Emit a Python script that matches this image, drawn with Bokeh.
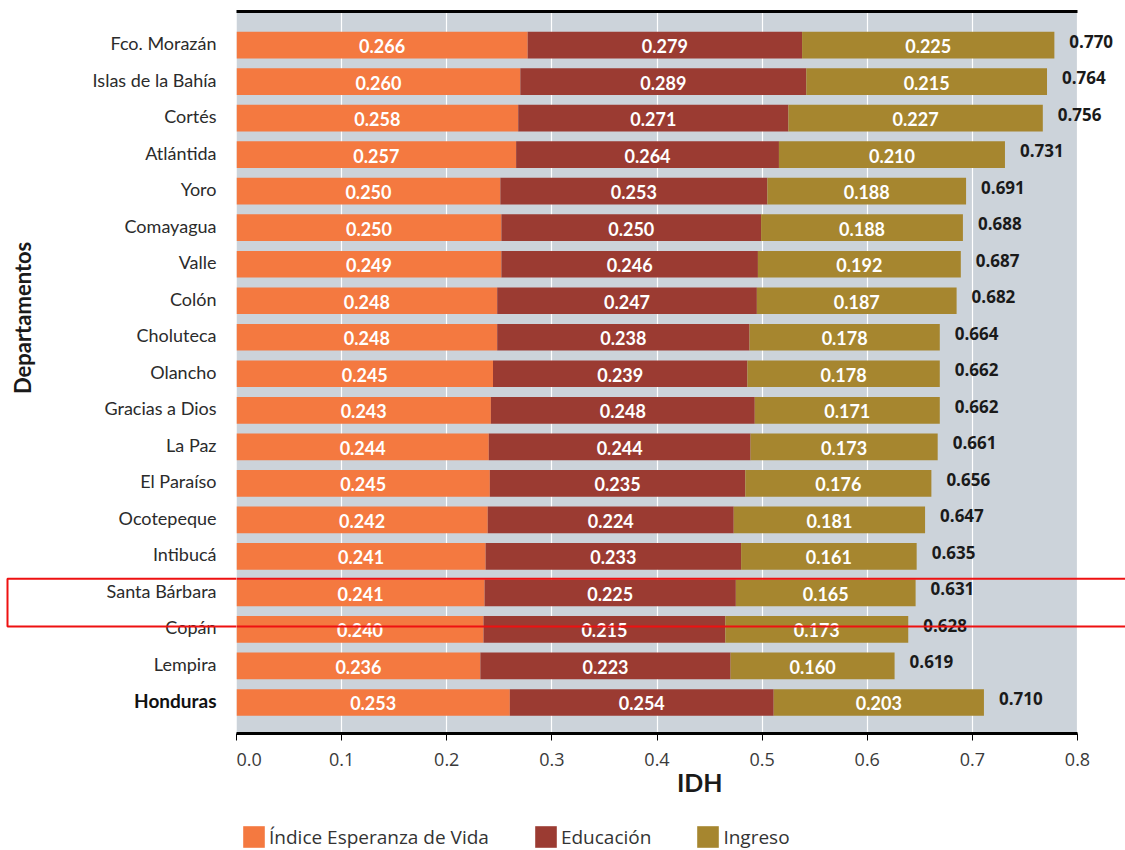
from bokeh.plotting import figure
from bokeh.layouts import row, column
from bokeh.models import (ColumnDataSource, Range1d, FixedTicker, LabelSet, LinearAxis,
                          Legend, LegendItem, BoxAnnotation, PrintfTickFormatter)
from bokeh.core.properties import value
from bokeh.embed import file_html
from bokeh.resources import INLINE
import math

departamentos = ["Fco. Morazán", "Islas de la Bahía", "Cortés", "Atlántida", "Yoro",
                 "Comayagua", "Valle", "Colón", "Choluteca", "Olancho", "Gracias a Dios",
                 "La Paz", "El Paraíso", "Ocotepeque", "Intibucá", "Santa Bárbara",
                 "Copán", "Lempira", "Honduras"]

# printed values
vida_lbl = [0.266, 0.260, 0.258, 0.257, 0.250, 0.250, 0.249, 0.248, 0.248, 0.245,
            0.243, 0.244, 0.245, 0.242, 0.241, 0.241, 0.240, 0.236, 0.253]
edu_lbl = [0.279, 0.289, 0.271, 0.264, 0.253, 0.250, 0.246, 0.247, 0.238, 0.239,
           0.248, 0.244, 0.235, 0.224, 0.233, 0.225, 0.215, 0.223, 0.254]
ing_lbl = [0.225, 0.215, 0.227, 0.210, 0.188, 0.188, 0.192, 0.187, 0.178, 0.178,
           0.171, 0.173, 0.176, 0.181, 0.161, 0.165, 0.173, 0.160, 0.203]
idh_lbl = [0.770, 0.764, 0.756, 0.731, 0.691, 0.688, 0.687, 0.682, 0.664, 0.662,
           0.662, 0.661, 0.656, 0.647, 0.635, 0.631, 0.628, 0.619, 0.710]

# bar lengths as drawn in the picture
vida_bar = [0.277, 0.270, 0.268, 0.266, 0.251, 0.252, 0.252, 0.248, 0.248, 0.244,
            0.242, 0.240, 0.241, 0.239, 0.237, 0.236, 0.235, 0.232, 0.260]
edu_bar = [0.261, 0.272, 0.257, 0.250, 0.254, 0.247, 0.244, 0.247, 0.240, 0.242,
           0.251, 0.249, 0.243, 0.234, 0.243, 0.239, 0.230, 0.238, 0.251]
ing_bar = [0.240, 0.229, 0.242, 0.215, 0.189, 0.192, 0.193, 0.190, 0.181, 0.183,
           0.176, 0.178, 0.177, 0.182, 0.167, 0.171, 0.174, 0.156, 0.200]

x_ticks = [0.0, 0.1, 0.2, 0.3, 0.4, 0.5, 0.6, 0.7, 0.8]
series_names = ["Índice Esperanza de Vida", "Educación", "Ingreso"]
colors = ["#F47940", "#9B3B32", "#A6862F"]
y_title = "Departamentos"
x_title = "IDH"
highlight = "Santa Bárbara"
bold_row = "Honduras"

# ---- layout constants (pixels) ----
LEFT_W = 236          # width of the label column
FRAME_W = 889         # plot frame width (runs to the right edge)
AXIS_W = 841          # pixels spanned by 0..0.8
FRAME_H = 722
TOP = 11
BOTTOM = 90
LEG_H = 27
GRAY = "#CCD3DA"

n = len(departamentos)
ys = [n - 1 - i for i in range(n)]
e1 = [a + b for a, b in zip(vida_bar, edu_bar)]
e2 = [a + b for a, b in zip(e1, ing_bar)]

src = ColumnDataSource(dict(
    y=ys, vida=vida_bar, edu=edu_bar, ing=ing_bar,
    m0=[v / 2 for v in vida_bar],
    m1=[v + e / 2 for v, e in zip(vida_bar, edu_bar)],
    m2=[a + g / 2 for a, g in zip(e1, ing_bar)],
    tot=e2,
    t0=[f"{v:.3f}" for v in vida_lbl],
    t1=[f"{v:.3f}" for v in edu_lbl],
    t2=[f"{v:.3f}" for v in ing_lbl],
    tt=[f"{v:.3f}" for v in idh_lbl],
))

Y0, Y1 = -0.85, n - 1 + 0.92
yr = Range1d(Y0, Y1)
XMAX = x_ticks[-1] * FRAME_W / AXIS_W
hi = ys[departamentos.index(highlight)]
box_top, box_bottom = hi + 0.39, hi - 0.92

# ================= main plot =================
p = figure(frame_width=FRAME_W, frame_height=FRAME_H,
           x_range=Range1d(0, XMAX), y_range=yr, y_axis_location=None,
           output_backend="svg", toolbar_location=None,
           min_border_left=0, min_border_right=0, min_border_top=TOP,
           min_border_bottom=BOTTOM)
p.background_fill_color = "white"
p.border_fill_color = "white"
p.outline_line_color = None

# gray plotting area 0..0.8
p.add_layout(BoxAnnotation(left=x_ticks[0], right=x_ticks[-1], fill_color=GRAY,
                           fill_alpha=1, line_color=None, level="image"))

rs = p.hbar_stack(["vida", "edu", "ing"], y="y", height=0.73, color=colors,
                  line_color=None, source=src)

p.ygrid.grid_line_color = None
p.xgrid.grid_line_color = "white"
p.xgrid.grid_line_width = 1.2
p.xgrid.ticker = FixedTicker(ticks=x_ticks)

xa = p.xaxis[0]
xa.ticker = FixedTicker(ticks=x_ticks)
xa.bounds = (x_ticks[0], x_ticks[-1])
xa.formatter = PrintfTickFormatter(format="%.1f")
xa.axis_line_color = "black"
xa.axis_line_width = 3
xa.major_tick_line_color = "black"
xa.major_tick_in = 0
xa.major_tick_out = 7
xa.minor_tick_line_color = None
xa.major_label_text_font = "Open Sans"
xa.major_label_text_font_size = "18px"
xa.major_label_text_color = "#3a3a3a"
xa.major_label_standoff = 12
# en spaces push the centred title towards where the reference draws it
xa.axis_label = "\u2002\u2002\u2002" + x_title
xa.axis_label_text_font = "Lato"
xa.axis_label_text_font_style = "bold"
xa.axis_label_text_font_size = "25px"
xa.axis_label_text_color = "#1a1a1a"
xa.axis_label_standoff = -2

top_axis = LinearAxis(ticker=FixedTicker(ticks=[]), bounds=(x_ticks[0], x_ticks[-1]),
                      axis_line_color="black", axis_line_width=3,
                      major_tick_line_color=None, minor_tick_line_color=None,
                      major_label_text_font_size="0px", major_label_standoff=0)
p.add_layout(top_axis, "above")

for col, tcol in (("m0", "t0"), ("m1", "t1"), ("m2", "t2")):
    p.text(x=col, y="y", text=tcol, source=src, text_align="center",
           text_baseline="middle", text_color="white",
           text_font=value("Lato"), text_font_style="bold",
           text_font_size="18px", y_offset=1)

p.add_layout(LabelSet(x="tot", y="y", text="tt", source=src, x_offset=15, y_offset=4,
                      text_align="left", text_baseline="middle",
                      text_font=value("Open Sans"), text_font_style="bold",
                      text_font_size="17px", text_color="#1a1a1a"))

p.add_layout(BoxAnnotation(left=-0.05, right=XMAX + 0.05, top=box_top, bottom=box_bottom,
                           fill_alpha=0, line_color="#EE1111", line_alpha=1, line_width=2))

# ================= label column =================
lab = figure(frame_width=LEFT_W, frame_height=FRAME_H,
             x_range=Range1d(0, LEFT_W), y_range=yr,
             x_axis_location=None, y_axis_location=None,
             output_backend="svg", toolbar_location=None,
             min_border_left=0, min_border_right=0, min_border_top=TOP,
             min_border_bottom=BOTTOM)
lab.outline_line_color = None
lab.background_fill_color = "white"
lab.border_fill_color = "white"
lab.grid.visible = False

reg = [(y, d) for y, d in zip(ys, departamentos) if d != bold_row]
bold = [(y, d) for y, d in zip(ys, departamentos) if d == bold_row]
lab.text(x=LEFT_W - 20, y=[y for y, _ in reg], text=[d for _, d in reg],
         text_align="right", text_baseline="middle", text_color="#2b2b2b",
         text_font=value("Lato"), text_font_size="18px", y_offset=-2)
lab.text(x=LEFT_W - 20, y=[y for y, _ in bold], text=[d for _, d in bold],
         text_align="right", text_baseline="middle", text_color="#111111",
         text_font=value("Lato"), text_font_style="bold", text_font_size="19px",
         y_offset=-2)
lab.text(x=22, y=10.53, text=[y_title], angle=math.pi / 2,
         text_align="center", text_baseline="middle", text_color="#1a1a1a",
         text_font=value("Lato"), text_font_style="bold", text_font_size="22px")

lab.add_layout(BoxAnnotation(left=7, right=LEFT_W + 50, top=box_top, bottom=box_bottom,
                             fill_alpha=0, line_color="#EE1111", line_alpha=1, line_width=2))

# ================= legend strip =================
TOTAL_W = LEFT_W + FRAME_W
leg = figure(width=TOTAL_W, height=LEG_H, x_range=Range1d(0, TOTAL_W), y_range=Range1d(0, 1),
             x_axis_location=None, y_axis_location=None,
             output_backend="svg", toolbar_location=None, min_border=0)
leg.outline_line_color = None
leg.background_fill_color = "white"
leg.border_fill_color = "white"
leg.grid.visible = False
# legend keys: one bar per series, placed outside the strip's visible range
keys = [leg.hbar(y=[-10], left=[0], right=[1], height=0.5, color=c, line_color=None)
        for c in colors]

legend = Legend(items=[LegendItem(label=nm, renderers=[r], index=0)
                       for nm, r in zip(series_names, keys)],
                orientation="horizontal", location=(LEFT_W + 4, 0))
legend.padding = 0
legend.margin = 0
legend.spacing = 43
legend.border_line_color = None
legend.background_fill_alpha = 0
legend.glyph_width = 27
legend.glyph_height = 27
legend.label_height = 27
legend.label_standoff = 2
legend.label_text_font = "Open Sans"
legend.label_text_font_size = "19px"
legend.label_text_color = "#333333"
leg.add_layout(legend, "center")

layout = column(row(lab, p), leg)
open("out.html", "w").write(file_html(layout, INLINE))
